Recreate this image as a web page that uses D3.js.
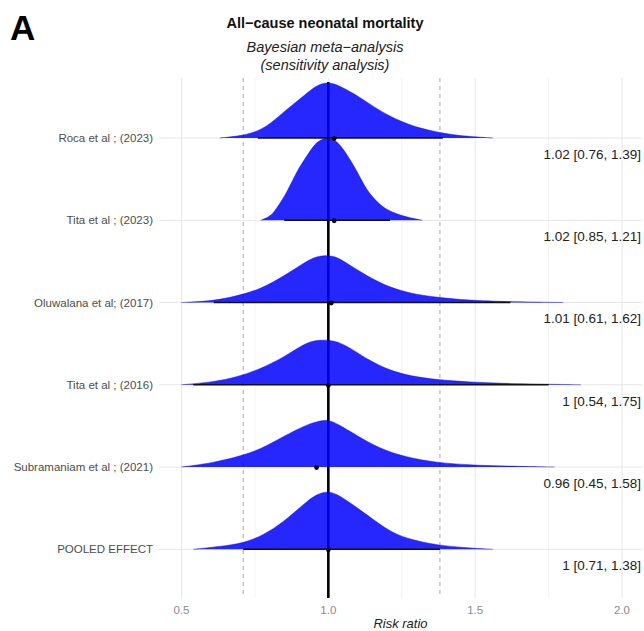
<!DOCTYPE html>
<html>
<head>
<meta charset="utf-8">
<script src="https://cdn.jsdelivr.net/npm/d3@7"></script>
<style>
  html, body { margin: 0; padding: 0; background: #fff; }
  svg { display: block; font-family: "Liberation Sans", Arial, Helvetica, sans-serif; }
</style>
</head>
<body>
<svg id="chart" width="644" height="631"></svg>
<script>
// Studies, top to bottom
const studies = [
  "Roca et al ; (2023)",
  "Tita et al ; (2023)",
  "Oluwalana et al; (2017)",
  "Tita et al ; (2016)",
  "Subramaniam et al ; (2021)",
  "POOLED EFFECT"
];

// Posterior summaries (risk ratio): median and 95% credible interval
const medians = [1.02, 1.02, 1.01, 1.00, 0.96, 1.00];
const lower   = [0.76, 0.85, 0.61, 0.54, 0.45, 0.71];
const upper   = [1.39, 1.21, 1.62, 1.75, 1.58, 1.38];
const summaryLabels = [
  "1.02 [0.76, 1.39]",
  "1.02 [0.85, 1.21]",
  "1.01 [0.61, 1.62]",
  "1 [0.54, 1.75]",
  "0.96 [0.45, 1.58]",
  "1 [0.71, 1.38]"
];
// Whether the interval segment is plotted for each row
const intervalShown = [true, true, true, true, false, true];

// Posterior densities: [risk ratio, density]
const rocaDensity = [
  [0.63, 0], [0.69, 0.09], [0.75, 0.29], [0.80, 0.72], [0.86, 1.57], [0.92, 2.32],
  [0.96, 2.86], [1.00, 3.02], [1.03, 2.88], [1.09, 2.38], [1.14, 1.84], [1.20, 1.24],
  [1.26, 0.81], [1.31, 0.54], [1.37, 0.32], [1.43, 0.16], [1.48, 0.08], [1.56, 0]
];
const tita2023Density = [
  [0.77, 0], [0.80, 0.18], [0.82, 0.54], [0.86, 1.51], [0.89, 2.59], [0.93, 3.55],
  [0.96, 4.28], [1.00, 4.50], [1.03, 4.28], [1.06, 3.65], [1.10, 2.59], [1.13, 1.62],
  [1.17, 0.92], [1.20, 0.54], [1.26, 0.18], [1.32, 0]
];
const oluwalanaDensity = [
  [0.50, 0], [0.61, 0.09], [0.69, 0.36], [0.77, 0.72], [0.85, 1.44], [0.92, 2.18],
  [0.96, 2.50], [1.00, 2.55], [1.03, 2.45], [1.07, 2.05], [1.14, 1.35], [1.21, 0.81],
  [1.28, 0.49], [1.37, 0.27], [1.48, 0.12], [1.60, 0.05], [1.80, 0]
];
const tita2016Density = [
  [0.50, 0], [0.61, 0.15], [0.69, 0.42], [0.77, 0.86], [0.85, 1.50], [0.92, 2.24],
  [0.96, 2.42], [1.02, 2.42], [1.07, 2.04], [1.14, 1.30], [1.21, 0.77], [1.28, 0.47],
  [1.37, 0.27], [1.48, 0.15], [1.60, 0.07], [1.71, 0.04], [1.86, 0]
];
const subramaniamDensity = [
  [0.50, 0], [0.61, 0.23], [0.70, 0.59], [0.77, 0.96], [0.85, 1.68], [0.92, 2.24],
  [0.96, 2.46], [1.00, 2.56], [1.03, 2.34], [1.10, 1.68], [1.17, 1.03], [1.26, 0.54],
  [1.37, 0.23], [1.48, 0.11], [1.60, 0.05], [1.77, 0]
];
const pooledDensity = [
  [0.54, 0], [0.63, 0.15], [0.71, 0.32], [0.78, 0.77], [0.85, 1.50], [0.92, 2.50],
  [0.96, 2.98], [1.00, 3.16], [1.04, 2.90], [1.10, 2.22], [1.17, 1.41], [1.23, 0.77],
  [1.31, 0.42], [1.37, 0.23], [1.46, 0.09], [1.56, 0]
];
const densities = [rocaDensity, tita2023Density, oluwalanaDensity, tita2016Density, subramaniamDensity, pooledDensity];

// Axis
const xTicks = [0.5, 1.0, 1.5, 2.0];
const xMinorTicks = [0.75, 1.25, 1.75];
const nullValue = 1.0;
const pooledBounds = [0.71, 1.38];

const svg = d3.select("#chart");

const panel = { left: 159, right: 642, top: 78, bottom: 598 };

const x = d3.scaleLinear().domain([0.5, 2.0]).range([181.5, 622]);
const y = d3.scalePoint().domain(studies).range([138, 549.3]);
const h = d3.scaleLinear().domain([0, 4.43]).range([0, 82]);

// Grid
const grid = svg.append("g");
grid.selectAll("line.minor").data(xMinorTicks).join("line")
  .attr("x1", d => x(d)).attr("x2", d => x(d))
  .attr("y1", panel.top).attr("y2", panel.bottom)
  .attr("stroke", "#f0f0f0").attr("stroke-width", 0.8);
grid.selectAll("line.major").data(xTicks).join("line")
  .attr("x1", d => x(d)).attr("x2", d => x(d))
  .attr("y1", panel.top).attr("y2", panel.bottom)
  .attr("stroke", "#e6e6e6").attr("stroke-width", 1);
grid.selectAll("line.row").data(studies).join("line")
  .attr("x1", panel.left).attr("x2", panel.right)
  .attr("y1", d => y(d)).attr("y2", d => y(d))
  .attr("stroke", "#e6e6e6").attr("stroke-width", 1);

// Pooled interval reference lines
svg.append("g").selectAll("line").data(pooledBounds).join("line")
  .attr("x1", d => x(d)).attr("x2", d => x(d))
  .attr("y1", panel.top).attr("y2", panel.bottom)
  .attr("stroke", "#a8a8a8").attr("stroke-width", 1)
  .attr("stroke-dasharray", "4,4");

// Line of no effect
svg.append("line")
  .attr("x1", x(nullValue)).attr("x2", x(nullValue))
  .attr("y1", panel.top + 4).attr("y2", panel.bottom)
  .attr("stroke", "#000").attr("stroke-width", 2.6);

// Density ridges
const area = d3.area()
  .x(d => x(d[0]))
  .y0(0)
  .y1(d => -h(d[1]))
  .curve(d3.curveBasis);
const topLine = d3.line()
  .x(d => x(d[0]))
  .y(d => -h(d[1]))
  .curve(d3.curveBasis);

const ridges = svg.append("g").selectAll("g").data(studies).join("g")
  .attr("transform", d => `translate(0,${y(d)})`);
ridges.append("path")
  .attr("d", (d, i) => area(densities[i]))
  .attr("fill", "#0000ff").attr("fill-opacity", 0.85);
ridges.append("path")
  .attr("d", (d, i) => topLine(densities[i]))
  .attr("fill", "none").attr("stroke", "#0000ff")
  .attr("stroke-opacity", 0.6).attr("stroke-width", 0.8);

// Intervals and medians
const marks = svg.append("g");
marks.selectAll("line").data(studies.filter((d, i) => intervalShown[i])).join("line")
  .attr("x1", d => x(lower[studies.indexOf(d)]))
  .attr("x2", d => x(upper[studies.indexOf(d)]))
  .attr("y1", d => y(d)).attr("y2", d => y(d))
  .attr("stroke", "#111").attr("stroke-width", 1.6);
marks.selectAll("circle").data(studies).join("circle")
  .attr("cx", (d, i) => x(medians[i]))
  .attr("cy", d => y(d) + 0.5)
  .attr("r", 2.4)
  .attr("fill", "#000");

// Summary labels
svg.append("g").selectAll("text").data(studies).join("text")
  .attr("x", 641)
  .attr("y", d => y(d) + 16)
  .attr("dy", "0.35em")
  .attr("text-anchor", "end")
  .attr("font-size", 13.5)
  .attr("fill", "#222")
  .text((d, i) => summaryLabels[i]);

// Study labels
svg.append("g").selectAll("text").data(studies).join("text")
  .attr("x", 153)
  .attr("y", d => y(d))
  .attr("dy", "0.35em")
  .attr("text-anchor", "end")
  .attr("font-size", 11.5)
  .attr("fill", "#4d4d4d")
  .text(d => d);

// X axis
svg.append("g").selectAll("text").data(xTicks).join("text")
  .attr("x", d => x(d))
  .attr("y", 610)
  .attr("dy", "0.35em")
  .attr("text-anchor", "middle")
  .attr("font-size", 11.5)
  .attr("fill", "#8a8a8a")
  .text(d => d3.format(".1f")(d));

svg.append("text")
  .attr("x", (panel.left + panel.right) / 2)
  .attr("y", 623)
  .attr("dy", "0.35em")
  .attr("text-anchor", "middle")
  .attr("font-size", 13)
  .attr("font-style", "italic")
  .attr("fill", "#222")
  .text("Risk ratio");

// Titles
svg.append("text")
  .attr("x", 10).attr("y", 40)
  .attr("font-size", 35).attr("font-weight", "bold")
  .attr("fill", "#000")
  .text("A");

svg.append("text")
  .attr("x", 325).attr("y", 28)
  .attr("text-anchor", "middle")
  .attr("font-size", 14.5).attr("font-weight", "bold")
  .attr("fill", "#111")
  .text("All\u2212cause neonatal mortality");

svg.append("text")
  .attr("x", 325).attr("y", 52)
  .attr("text-anchor", "middle")
  .attr("font-size", 14.5).attr("font-style", "italic")
  .attr("fill", "#222")
  .text("Bayesian meta\u2212analysis");

svg.append("text")
  .attr("x", 325).attr("y", 70)
  .attr("text-anchor", "middle")
  .attr("font-size", 14.5).attr("font-style", "italic")
  .attr("fill", "#222")
  .text("(sensitivity analysis)");
</script>
</body>
</html>
